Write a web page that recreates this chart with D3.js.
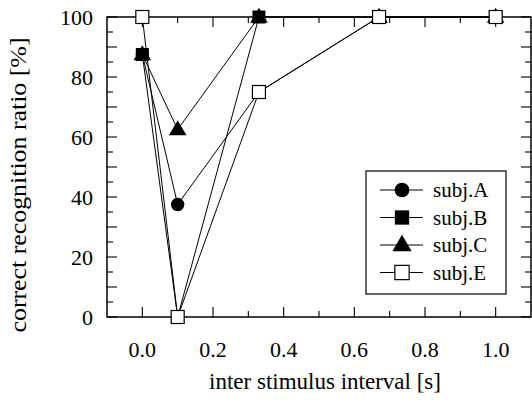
<!DOCTYPE html>
<html>
<head>
<meta charset="utf-8">
<script src="https://cdn.jsdelivr.net/npm/d3@7"></script>
<style>
  html, body { margin: 0; padding: 0; background: #fff; }
  svg { display: block; }
  text { font-family: "Liberation Serif", "Times New Roman", serif; fill: #000; }
</style>
</head>
<body>
<svg id="chart" width="532" height="403"></svg>
<script>
// ---- data ----
const intervals = [0.0, 0.1, 0.33, 0.67, 1.0];
const subjA = [87.5, 37.5, 75, 100, 100];
const subjB = [87.5, 0, 100, 100, 100];
const subjC = [87.5, 62.5, 100, 100, 100];
const subjE = [100, 0, 75, 100, 100];
const seriesNames = ["subj.A", "subj.B", "subj.C", "subj.E"];
const xTickValues = [0.0, 0.2, 0.4, 0.6, 0.8, 1.0];
const yTickValues = [0, 20, 40, 60, 80, 100];
const xTitle = "inter stimulus interval [s]";
const yTitle = "correct recognition ratio [%]";

const markers = { "subj.A": "circle", "subj.B": "fsquare", "subj.C": "triangle", "subj.E": "osquare" };
const seriesData = { "subj.A": subjA, "subj.B": subjB, "subj.C": subjC, "subj.E": subjE };
const drawOrder = ["subj.B", "subj.A", "subj.C", "subj.E"];

const svg = d3.select("#chart");
const m = { left: 107, top: 17, right: 531, bottom: 317 };
const x = d3.scaleLinear().domain([-0.1, 1.1]).range([m.left, m.right]);
const y = d3.scaleLinear().domain([0, 100]).range([m.bottom, m.top]);

// ticks
const xMinor = d3.range(-1, 12).map(i => i / 10).filter(v => v > -0.1 && v < 1.1);
const yMinor = d3.range(0, 101, 5);
const majLen = 10, minLen = 6;
const isXMajor = v => Math.abs(Math.round(v * 10) % 2) === 0;
const isYMajor = v => v % 10 === 0;

const axG = svg.append("g").attr("stroke", "#000").attr("stroke-width", 1.1);
xMinor.forEach(v => {
  const L = isXMajor(v) ? majLen : minLen;
  axG.append("line").attr("x1", x(v)).attr("x2", x(v)).attr("y1", m.bottom).attr("y2", m.bottom - L);
  axG.append("line").attr("x1", x(v)).attr("x2", x(v)).attr("y1", m.top).attr("y2", m.top + L);
});
yMinor.forEach(v => {
  const L = isYMajor(v) ? majLen : minLen;
  axG.append("line").attr("y1", y(v)).attr("y2", y(v)).attr("x1", m.left).attr("x2", m.left + L);
  axG.append("line").attr("y1", y(v)).attr("y2", y(v)).attr("x1", m.right).attr("x2", m.right - L);
});

// frame
svg.append("rect").attr("x", m.left).attr("y", m.top)
  .attr("width", m.right - m.left).attr("height", m.bottom - m.top)
  .attr("fill", "none").attr("stroke", "#000").attr("stroke-width", 1.5);

// tick labels
svg.append("g").selectAll("text").data(xTickValues).join("text")
  .attr("x", d => x(d)).attr("y", 357)
  .attr("text-anchor", "middle").attr("font-size", 22)
  .text(d => d.toFixed(1));
svg.append("g").selectAll("text").data(yTickValues).join("text")
  .attr("x", 93).attr("y", d => y(d) + 7.5)
  .attr("text-anchor", "end").attr("font-size", 22)
  .text(d => d);

// titles
svg.append("text").attr("x", (m.left + m.right) / 2 + 6).attr("y", 389)
  .attr("text-anchor", "middle").attr("font-size", 23).text(xTitle);
svg.append("text").attr("transform", "translate(26,185) rotate(-90)")
  .attr("text-anchor", "middle").attr("font-size", 23)
  .attr("textLength", 295).attr("lengthAdjust", "spacingAndGlyphs")
  .text(yTitle);

// marker drawer
function drawMarker(g, type, cx, cy, scale) {
  const s = scale || 1;
  if (type === "circle") {
    g.append("circle").attr("cx", cx).attr("cy", cy).attr("r", 6.7 * s).attr("fill", "#000");
  } else if (type === "fsquare") {
    const h = 6.5 * s;
    g.append("rect").attr("x", cx - h).attr("y", cy - h).attr("width", 2 * h).attr("height", 2 * h).attr("fill", "#000");
  } else if (type === "triangle") {
    const w = 8.8 * s, hh = 15 * s;
    g.append("path").attr("d", `M${cx},${cy - hh * 0.62}L${cx + w},${cy + hh * 0.38}L${cx - w},${cy + hh * 0.38}Z`).attr("fill", "#000");
  } else {
    const h = 6.5 * s;
    g.append("rect").attr("x", cx - h).attr("y", cy - h).attr("width", 2 * h).attr("height", 2 * h)
      .attr("fill", "#fff").attr("stroke", "#000").attr("stroke-width", 1.2);
  }
}

const line = d3.line().x(d => x(d[0])).y(d => y(d[1]));
const plotG = svg.append("g");
drawOrder.forEach(name => {
  const pts = intervals.map((v, i) => [v, seriesData[name][i]]);
  plotG.append("path").attr("d", line(pts)).attr("fill", "none").attr("stroke", "#000").attr("stroke-width", 1);
});
drawOrder.forEach(name => {
  const pts = intervals.map((v, i) => [v, seriesData[name][i]]);
  pts.forEach(p => drawMarker(plotG, markers[name], x(p[0]), y(p[1]), 1));
});

// legend
const leg = svg.append("g");
leg.append("rect").attr("x", 366).attr("y", 171).attr("width", 140).attr("height", 123)
  .attr("fill", "#fff").attr("stroke", "#000").attr("stroke-width", 1.2);
seriesNames.forEach((name, i) => {
  const ly = 190 + i * 27.5;
  leg.append("line").attr("x1", 380).attr("x2", 423).attr("y1", ly).attr("y2", ly)
    .attr("stroke", "#000").attr("stroke-width", 1);
  drawMarker(leg, markers[name], 402, ly, 1.1);
  leg.append("text").attr("x", 433).attr("y", ly + 7).attr("font-size", 21).text(name);
});
</script>
</body>
</html>
